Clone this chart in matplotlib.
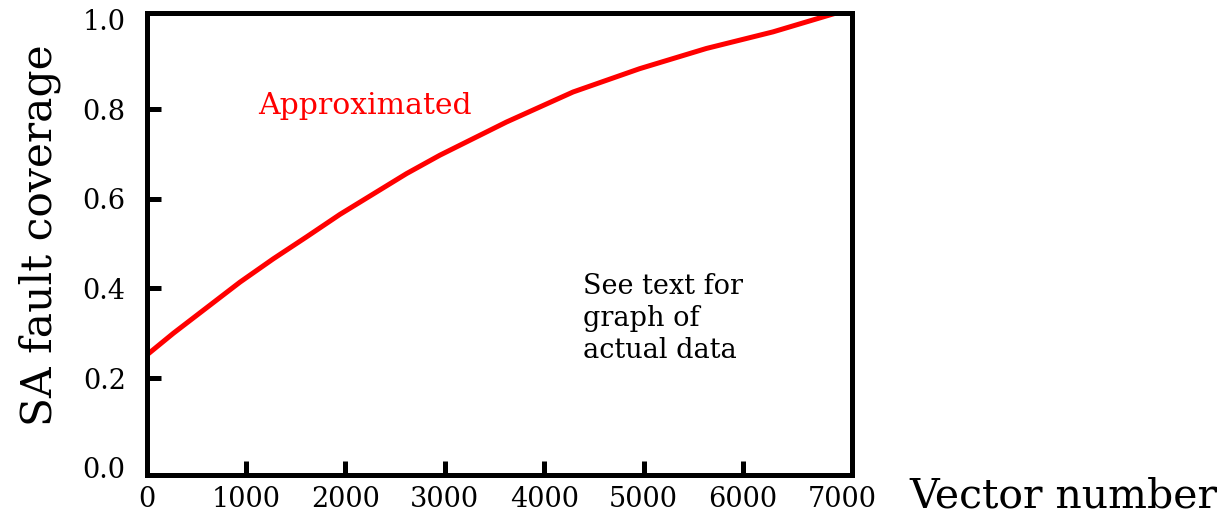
import matplotlib
matplotlib.use("Agg")
import matplotlib.pyplot as plt

# Data
vectors = [0, 270, 605, 940, 1275, 1610, 1945, 2615, 2950, 3620, 4290, 4960, 5630, 6300, 6920]
coverage = [0.251, 0.300, 0.357, 0.414, 0.466, 0.515, 0.565, 0.656, 0.697, 0.771, 0.838,
            0.890, 0.935, 0.972, 1.013]
x_ticks = [0, 1000, 2000, 3000, 4000, 5000, 6000, 7000]
y_ticks = [0.0, 0.2, 0.4, 0.6, 0.8, 1.0]
y_tick_labels = ["0.0", "0.2", "0.4", "0.6", "0.8", "1.0"]

plt.rcParams['font.family'] = ['DejaVu Serif']

fig = plt.figure(figsize=(12.26, 5.21), dpi=100)
ax = fig.add_axes([146.5/1226, 46/521, (852-146.5)/1226, (475-13.5)/521])

ax.plot(vectors, coverage, color='#ff0000', lw=3.6, solid_capstyle='butt',
        solid_joinstyle='round', clip_on=False)

ax.set_xlim(0, 7095)
ax.set_ylim(-0.016, 1.013)

ax.set_xticks(x_ticks)
ax.set_xticklabels([str(v) for v in x_ticks], fontsize=19.5)
ax.set_yticks(y_ticks)
ax.set_yticklabels(y_tick_labels, fontsize=19.5)
ax.tick_params(axis='both', direction='in', length=10, width=3.6, color='black')
ax.tick_params(axis='y', pad=15)
ax.tick_params(axis='x', pad=8)
xt = ax.xaxis.get_major_ticks()
xt[-1].tick1line.set_visible(False)
xt[0].tick1line.set_visible(False)
yt = ax.yaxis.get_major_ticks()
yt[0].tick1line.set_visible(False)
yt[-1].tick1line.set_visible(False)

for s in ax.spines.values():
    s.set_linewidth(3.6)
    s.set_color('black')

ax.text(2196, 0.806, "Approximated", color='#ff0000', fontsize=21.5,
        ha='center', va='center')
ax.text(4387, 0.333, "See text for\ngraph of\nactual data", color='black',
        fontsize=19.5, ha='left', va='center', linespacing=1.22)

fig.text(40/1226, 1 - 235/521, "SA fault coverage", rotation=90, fontsize=30.5,
         ha='center', va='center')
fig.text(909/1226, 1 - 497/521, "Vector number", fontsize=29.5,
         ha='left', va='center')

fig.savefig("out.png", dpi=100)
